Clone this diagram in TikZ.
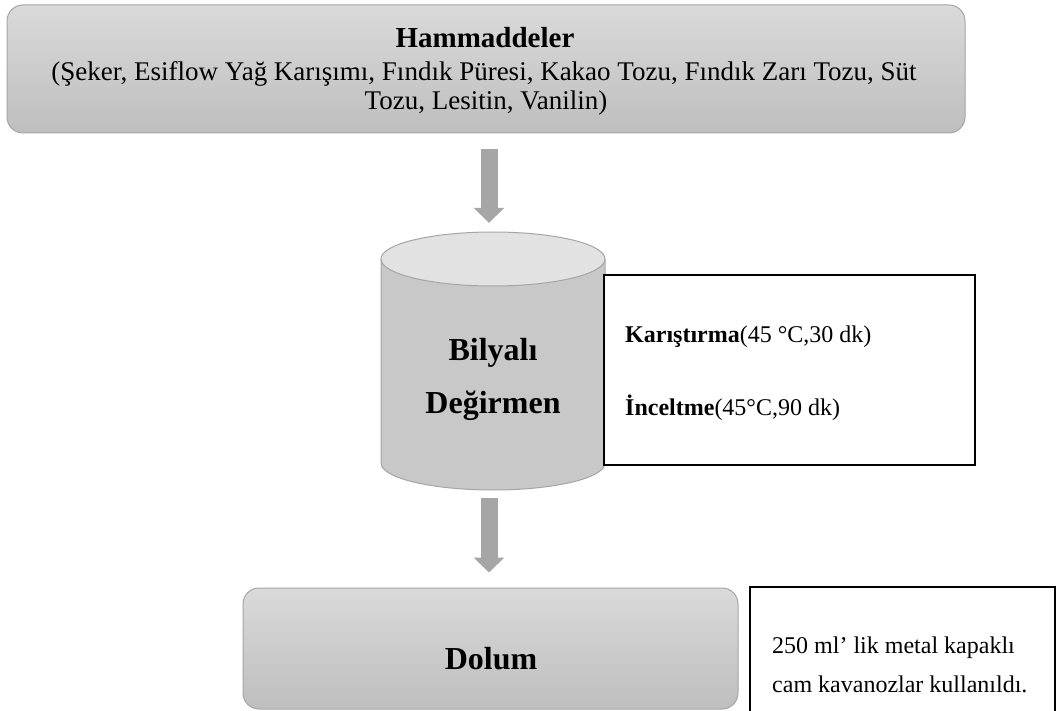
\documentclass[tikz,border=0pt]{standalone}
\usepackage{fontspec}
\setmainfont{Liberation Serif}
\usetikzlibrary{arrows.meta}
\definecolor{boxtop}{RGB}{218,218,218}
\definecolor{boxbot}{RGB}{190,190,190}
\definecolor{boxline}{RGB}{165,165,165}
\definecolor{arrowgray}{RGB}{166,166,166}
\definecolor{cylbody}{RGB}{200,200,200}
\definecolor{cyltop}{RGB}{226,226,226}
\begin{document}
\begin{tikzpicture}[x=1pt,y=-1pt,
 procbox/.style={draw=boxline, line width=1pt, rounded corners=16pt, top color=boxtop, bottom color=boxbot, inner sep=0pt},
 notebox/.style={draw=black, line width=1.8pt, fill=white, inner sep=0pt},
 flowarrow/.style={draw=arrowgray, line width=17pt, -{Triangle[width=30pt,length=15pt]}},
 toptext/.style={font=\fontsize{27}{30}\selectfont, anchor=base, inner sep=0pt},
 bigtext/.style={font=\fontsize{32}{36}\selectfont\bfseries, anchor=base, inner sep=0pt},
 notetext/.style={font=\fontsize{24}{28}\selectfont, anchor=base west, inner sep=0pt}]
\useasboundingbox (0,0) rectangle (1057,711);
\clip (0,0) rectangle (1057,711);
\fill[white] (0,0) rectangle (1057,711);

% top box
\node[procbox, minimum width=958pt, minimum height=128pt] (raw) at (486,69) {};
\node[toptext, font=\fontsize{29}{32}\selectfont\bfseries] (rawtitle) at (485,48) {Hammaddeler};
\node[toptext] (rawline1) at (484,81) {(Şeker, Esiflow Yağ Karışımı, Fındık Püresi, Kakao Tozu, Fındık Zarı Tozu, Süt};
\node[toptext] (rawline2) at (486,110) {Tozu, Lesitin, Vanilin)};

% cylinder
\fill[cylbody] (381,259) rectangle (605,463);
\fill[cylbody] (493,463) ellipse[x radius=112pt, y radius=27pt];
\draw[boxline, line width=1pt] (381,259) -- (381,463) arc[start angle=180,end angle=360,x radius=112pt,y radius=27pt] -- (605,259);
\filldraw[fill=cyltop, draw=boxline, line width=1pt] (493,259) ellipse[x radius=112pt, y radius=27pt];
\node[minimum width=224pt, minimum height=258pt, inner sep=0pt] (mill) at (493,361) {};
\node[bigtext] (milltext1) at (493,360) {Bilyalı};
\node[bigtext] (milltext2) at (493,413) {Değirmen};

% note box 1
\node[notebox, minimum width=371pt, minimum height=190pt] (mix) at (789.5,370) {};
\node[notetext] (mixtext1) at (625,342) {\textbf{Karıştırma}(45 °C,30 dk)};
\node[notetext] (mixtext2) at (625,415) {\textbf{İnceltme}(45°C,90 dk)};

% dolum box
\node[procbox, minimum width=495pt, minimum height=121pt] (fill) at (490.5,648.5) {};
\node[bigtext] (filltext) at (491,669) {Dolum};

% note box 2
\node[notebox, minimum width=305pt, minimum height=173pt] (jar) at (902.5,673.5) {};
\node[notetext] (jartext1) at (772,653) {250 ml’ lik metal kapaklı};
\node[notetext] (jartext2) at (772,692) {cam kavanozlar kullanıldı.};

% arrows
\draw[flowarrow] ([xshift=3pt,yshift=-16pt]raw.south) -- ([xshift=-4pt,yshift=9pt]mill.north);
\draw[flowarrow] ([xshift=-4pt,yshift=-8pt]mill.south) -- ([xshift=-1.5pt,yshift=15pt]fill.north);
\end{tikzpicture}
\end{document}
